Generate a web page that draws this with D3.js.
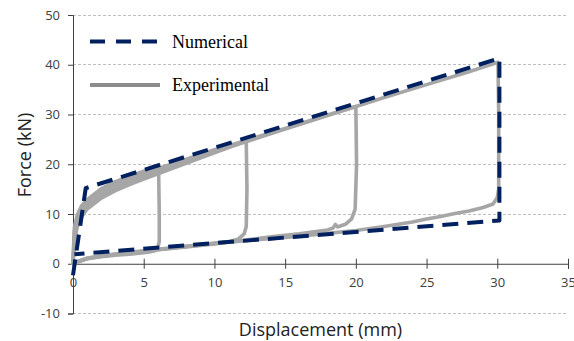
<!DOCTYPE html>
<html>
<head>
<meta charset="utf-8">
<script src="https://cdn.jsdelivr.net/npm/d3@7"></script>
<style>
  html, body { margin: 0; padding: 0; background: #fff; }
  svg { display: block; }
</style>
</head>
<body>
<svg id="chart" width="574" height="341"></svg>
<script>
// ---- Data ----
const xTicks = [0, 5, 10, 15, 20, 25, 30, 35];
const yTicks = [-10, 0, 10, 20, 30, 40, 50];
const seriesNames = ["Numerical", "Experimental"];

// Numerical (model) response
const numX = [0.0, 0.9, 30.15, 30.15, 0.1];
const numY = [-2.3, 15.2, 41.3, 8.7, 1.9];

// Experimental cycles (loading branch then unloading branch)
const exp1X = [0, 0.05, 0.1, 0.3, 0.6, 1.0, 2, 3, 4, 5, 6.0, 6.05, 6.1, 6.1, 6.0, 5.8, 5.3, 4, 3, 2, 1, 0.4, 0];
const exp1Y = [0, 4.0, 7.3, 9.8, 11.6, 12.9, 15.1, 16.5, 17.6, 18.6, 19.6, 19.6, 10.0, 4.5, 3.2, 2.6, 2.3, 1.9, 1.7, 1.4, 1.0, 0.5, 0];

const exp2X = [0, 0.1, 0.3, 0.6, 1.0, 2, 3, 4, 5, 6, 8, 10, 12.2, 12.25, 12.3, 12.25, 12.1, 11.7, 11, 10, 8, 6, 4, 2, 1, 0.3, 0];
const exp2Y = [0, 4.5, 7.4, 9.4, 11.0, 13.2, 14.7, 15.9, 17.0, 18.1, 20.2, 22.3, 24.6, 24.6, 15.0, 7.5, 6.0, 5.0, 4.4, 4.0, 3.4, 2.8, 2.2, 1.6, 1.1, 0.4, 0];

const exp3X = [0, 0.1, 0.3, 0.6, 1.0, 2, 3, 4, 5, 6, 8, 10, 12, 15, 18, 20.0, 20.05, 19.95, 19.7, 19.3, 18.7, 18.55, 18.4, 18, 16, 14, 12, 10, 8, 6, 4, 2, 1, 0.3, 0];
const exp3Y = [0, 5.5, 8.4, 10.2, 11.6, 13.9, 15.3, 16.5, 17.6, 18.6, 20.6, 22.6, 24.3, 27.1, 29.8, 31.6, 20.0, 11.0, 9.0, 8.0, 7.4, 7.9, 7.2, 6.8, 6.0, 5.4, 4.7, 4.1, 3.5, 2.8, 2.2, 1.5, 1.0, 0.3, 0];

const exp4X = [0, 0.1, 0.3, 0.6, 1.0, 2, 3, 4, 5, 6, 8, 10, 12, 15, 18, 20, 22, 25, 28, 30.05, 30.1, 30.1, 30.0, 29.7, 29, 28, 27, 26, 25, 24, 22, 20, 18, 15, 12, 10, 8, 6, 4, 2, 1, 0.3, 0];
const exp4Y = [0, 6.5, 9.0, 11.0, 12.3, 14.5, 16.0, 17.1, 18.1, 19.1, 21.0, 22.9, 24.6, 27.2, 29.9, 31.6, 33.4, 36.0, 38.6, 40.5, 30.0, 15.0, 13.3, 12.0, 11.3, 10.6, 10.1, 9.5, 9.0, 8.4, 7.5, 6.7, 6.1, 5.3, 4.6, 4.1, 3.5, 2.9, 2.3, 1.6, 1.1, 0.4, 0];

const expCycles = [[exp1X, exp1Y], [exp2X, exp2Y], [exp3X, exp3Y], [exp4X, exp4Y]];

// ---- Layout ----
const svg = d3.select("#chart");
const x = d3.scaleLinear().domain([0, 35]).range([73, 568]);
const y = d3.scaleLinear().domain([-10, 50]).range([313.5, 15]);

const tickFont = "'Open Sans', 'DejaVu Sans', sans-serif";
const navy = "#002060";
const fmt = d => String(d);

// Gridlines
svg.append("g")
  .selectAll("line")
  .data(yTicks.filter(d => d !== 0))
  .join("line")
  .attr("x1", x(0)).attr("x2", x(35))
  .attr("y1", d => y(d)).attr("y2", d => y(d))
  .attr("stroke", "#bfbfbf")
  .attr("stroke-width", 1)
  .attr("stroke-dasharray", "3,2")
  .attr("shape-rendering", "crispEdges");

// Y axis
const yAxis = svg.append("g")
  .attr("transform", `translate(${x(0)},0)`)
  .call(d3.axisLeft(y).tickValues(yTicks).tickSize(5).tickPadding(8).tickFormat(fmt));
yAxis.select(".domain").attr("stroke", "#404040");
yAxis.selectAll(".tick line").attr("stroke", "#404040");
yAxis.selectAll("text").attr("font-family", tickFont).attr("font-size", 13).attr("fill", "#404040");

// X axis at y=0
const xAxis = svg.append("g")
  .attr("transform", `translate(0,${y(0)})`)
  .call(d3.axisBottom(x).tickValues(xTicks).tickSize(5).tickPadding(9).tickFormat(fmt));
xAxis.select(".domain").attr("stroke", "#404040");
xAxis.selectAll(".tick line").attr("stroke", "#404040").attr("y1", -5).attr("y2", 5);
xAxis.selectAll(".tick").filter(d => d === 0).select("line").remove();
xAxis.selectAll("text").attr("font-family", tickFont).attr("font-size", 13).attr("fill", "#404040");

// Experimental curves
const line = d3.line().x(d => x(d[0])).y(d => y(d[1]));
const plot = svg.append("g");
expCycles.forEach(([cx, cy]) => {
  plot.append("path")
    .datum(cx.map((v, i) => [v, cy[i]]))
    .attr("d", line)
    .attr("fill", "none")
    .attr("stroke", "#a6a6a6")
    .attr("stroke-width", 3.6)
    .attr("stroke-linejoin", "round")
    .attr("stroke-linecap", "round");
});

// Numerical curve
plot.append("path")
  .datum(numX.map((v, i) => [v, numY[i]]))
  .attr("d", line)
  .attr("fill", "none")
  .attr("stroke", navy)
  .attr("stroke-width", 4)
  .attr("stroke-dasharray", "16,9")
  .attr("stroke-linejoin", "round");

// Axis titles
svg.append("text")
  .attr("x", x(17.5)).attr("y", 336)
  .attr("text-anchor", "middle")
  .attr("font-family", tickFont).attr("font-size", 18).attr("fill", "#222")
  .text("Displacement (mm)");

svg.append("text")
  .attr("transform", "translate(31,155) rotate(-90)")
  .attr("text-anchor", "middle")
  .attr("font-family", tickFont).attr("font-size", 18).attr("fill", "#222")
  .text("Force (kN)");

// Legend
const legend = svg.append("g");
const legendItems = [
  { name: seriesNames[0], y: 41.5, stroke: navy, dash: "15,11" },
  { name: seriesNames[1], y: 85, stroke: "#8c8c8c", dash: null }
];
legendItems.forEach(it => {
  legend.append("line")
    .attr("x1", 90).attr("x2", 160)
    .attr("y1", it.y).attr("y2", it.y)
    .attr("stroke", it.stroke).attr("stroke-width", 4)
    .attr("stroke-dasharray", it.dash);
  legend.append("text")
    .attr("x", 172).attr("y", it.y + 6)
    .attr("font-family", "'Liberation Serif', 'Times New Roman', serif")
    .attr("font-size", 18).attr("fill", "#000")
    .text(it.name);
});
</script>
</body>
</html>
